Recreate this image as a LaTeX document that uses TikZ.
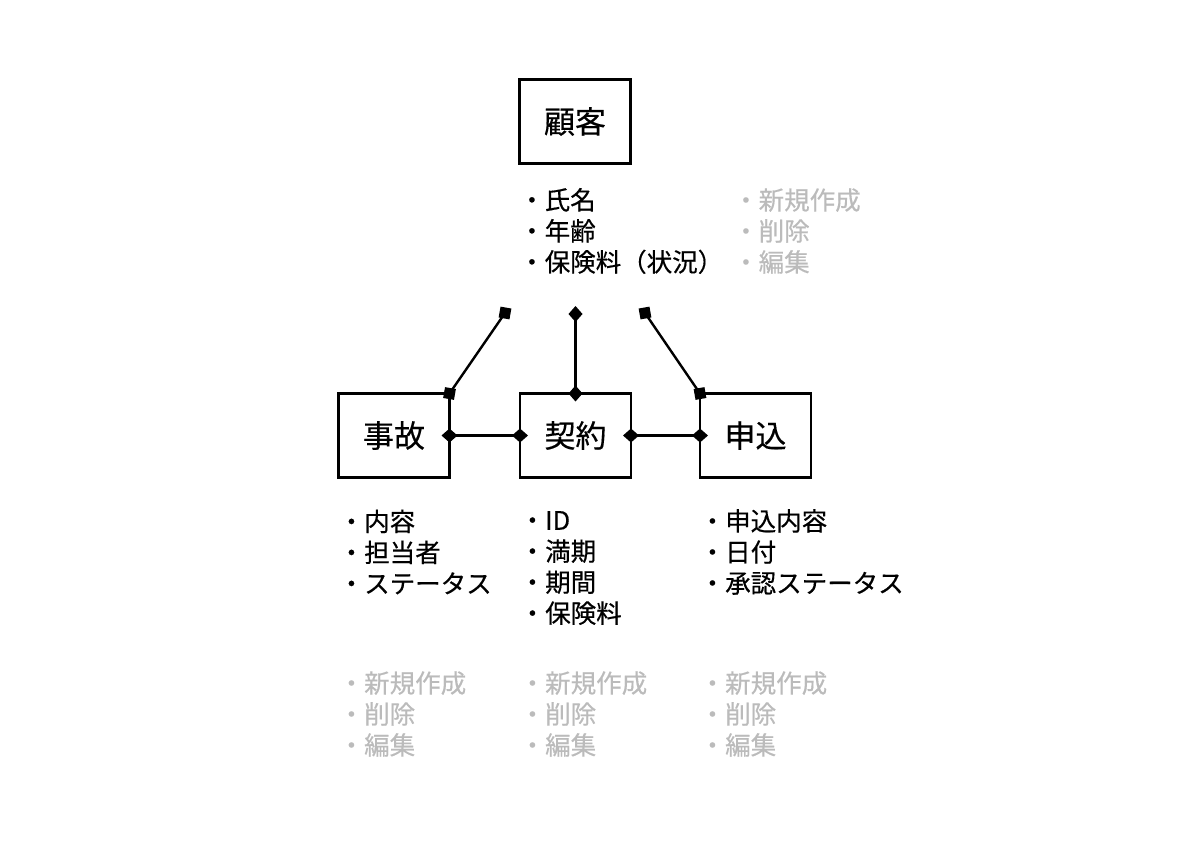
\documentclass[tikz,border=0pt]{standalone}
\usepackage{fontspec}
\setmainfont{Noto Sans CJK JP}[FakeBold=0.4,AutoFakeBold=0.4]
\newfontfamily\jpbold{Noto Sans CJK JP}[FakeBold=0.4]
\usetikzlibrary{arrows.meta}
\definecolor{lgray}{HTML}{BBBBBB}
\begin{document}
\begin{tikzpicture}[x=1pt,y=-1pt,
  ent/.style={draw, line width=2.7pt, minimum width=111pt, minimum height=84pt, inner sep=0pt, outer sep=0pt, font=\jpbold\fontsize{31}{31}\selectfont},
  lst/.style={anchor=west, align=left, inner sep=0pt, font=\jpbold\fontsize{25.5}{31}\selectfont},
  ops/.style={lst, text=lgray},
  conn/.style={line width=2.4pt},
  dd/.style={conn, {Diamond[length=16pt,width=14pt]}-{Diamond[length=16pt,width=14pt]}, shorten <=-8pt, shorten >=-8pt},
  sq/.style={fill, inner sep=0pt, minimum size=11pt, rotate=-10}
]
\useasboundingbox[fill=white] (0,0) rectangle (1200,857);

% entities
\node[ent] (kokyaku) at (575,121.5) {顧客};
\node[ent] (jiko) at (394,435.5) {事故};
\node[ent] (keiyaku) at (575.5,435.5) {契約};
\node[ent] (moushikomi) at (755.5,435.5) {申込};

% free ends of the connectors from 顧客
\coordinate (tl) at (505,313);
\coordinate (tc) at (575.5,314);
\coordinate (tr) at (645,313);

% connectors
\draw[conn] (tl) -- (jiko.north east);
\node[sq] (sqa) at (tl) {};
\node[sq] (sqb) at (jiko.north east) {};
\draw[dd] (tc) -- (keiyaku.north);
\draw[conn] (tr) -- (moushikomi.north west);
\node[sq, rotate=20] (sqc) at (tr) {};
\node[sq, rotate=20] (sqd) at (moushikomi.north west) {};
\draw[dd] (jiko.east) -- (keiyaku.west);
\draw[dd] (keiyaku.east) -- (moushikomi.west);

% attribute lists
\node[lst] (kokyakuattr) at (519,231) {・氏名\\・年齢\\・保険料（状況）};
\node[ops] (kokyakuops) at (733,231) {・新規作成\\・削除\\・編集};
\node[lst] (jikoattr) at (338.5,552) {・内容\\・担当者\\・ステータス};
\node[lst] (keiyakuattr) at (519.5,568) {・ID\\・満期\\・期間\\・保険料};
\node[lst] (moushikomiattr) at (699.5,552) {・申込内容\\・日付\\・承認ステータス};
\node[ops] (jikoops) at (338.5,714) {・新規作成\\・削除\\・編集};
\node[ops] (keiyakuops) at (519.5,714) {・新規作成\\・削除\\・編集};
\node[ops] (moushikomiops) at (699.5,714) {・新規作成\\・削除\\・編集};
\end{tikzpicture}
\end{document}
